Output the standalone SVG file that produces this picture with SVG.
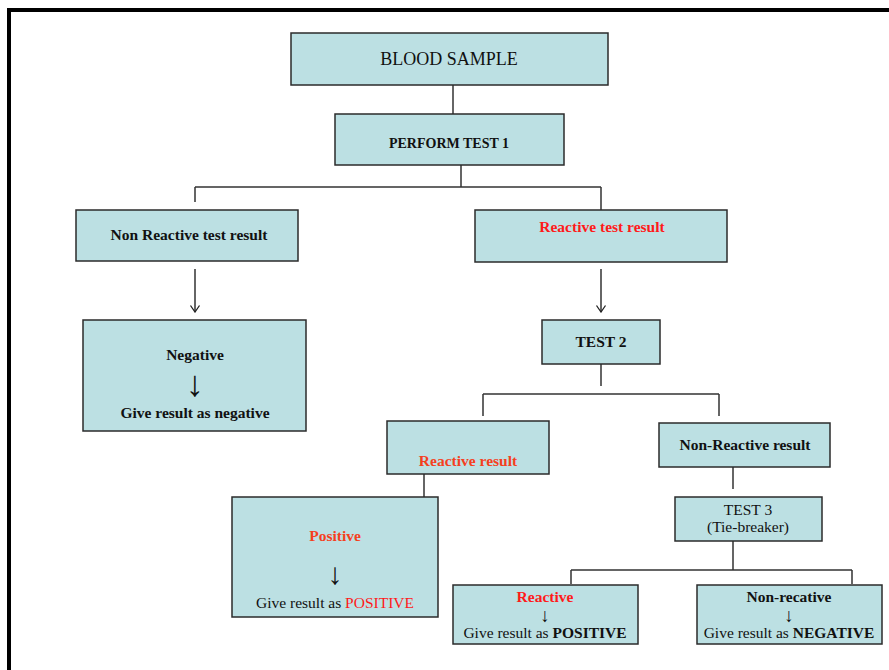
<svg xmlns="http://www.w3.org/2000/svg" width="889" height="670" viewBox="0 0 889 670">
<defs>
<style>
.box{fill:#BCE0E3;stroke:#2b2b2b;stroke-width:1.5}
.ln{fill:none;stroke:#333;stroke-width:1.5}
.t{font-family:"Liberation Serif","Times New Roman",serif;font-size:15.5px;fill:#111;text-anchor:middle}
.b{font-weight:bold}
.red{fill:#FF1A1A}
.org{fill:#F5401E}
.ar{font-family:"Liberation Serif","DejaVu Serif",serif}
</style>
<marker id="ah" markerWidth="8" markerHeight="12" refX="7" refY="6" orient="auto" markerUnits="userSpaceOnUse" viewBox="0 0 8 12">
<path d="M0.5,1.5 L7,6 L0.5,10.5" fill="none" stroke="#222" stroke-width="1.3"/>
</marker>
</defs>
<rect width="889" height="670" fill="#fff"/>
<path d="M9,670 V10 H889" fill="none" stroke="#000" stroke-width="4"/>

<g id="connectors">
<path class="ln" d="M453,85 V114"/>
<path class="ln" d="M461,165 V187 M195,187 H601 M195,187 V202 M601,187 V210"/>
<path class="ln" d="M195,269 V312" marker-end="url(#ah)"/>
<path class="ln" d="M601,269 V312" marker-end="url(#ah)"/>
<path class="ln" d="M601,364 V386"/>
<path class="ln" d="M483,394 H719 M483,394 V416 M719,394 V416"/>
<path class="ln" d="M424,474 V497"/>
<path class="ln" d="M733,467 V489"/>
<path class="ln" d="M733,541 V570 M571,570 H852 M571,570 V584 M852,570 V584"/>
</g>

<g id="blood-sample">
<rect class="box" x="291" y="33" width="317" height="52"/>
<text class="t" x="449" y="64.5" style="font-size:18px">BLOOD SAMPLE</text>
</g>
<g id="perform-test-1">
<rect class="box" x="335" y="114" width="229" height="51"/>
<text class="t b" x="449" y="148" style="font-size:14px">PERFORM TEST 1</text>
</g>
<g id="non-reactive-test-result">
<rect class="box" x="76" y="210" width="222" height="51"/>
<text class="t b" x="189" y="240">Non Reactive test result</text>
</g>
<g id="reactive-test-result">
<rect class="box" x="475" y="210" width="252" height="52"/>
<text class="t b red" x="602" y="232">Reactive test result</text>
</g>
<g id="negative">
<rect class="box" x="83" y="320" width="223" height="111"/>
<text class="t b" x="195" y="360">Negative</text>
<text class="t b ar" x="195" y="396" style="font-size:36px">↓</text>
<text class="t b" x="195" y="418">Give result as negative</text>
</g>
<g id="test-2">
<rect class="box" x="542" y="320" width="118" height="44"/>
<text class="t b" x="601" y="347">TEST 2</text>
</g>
<g id="reactive-result">
<rect class="box" x="387" y="421" width="162" height="53"/>
<text class="t b org" x="468" y="466">Reactive result</text>
</g>
<g id="non-reactive-result">
<rect class="box" x="659" y="423" width="171" height="44"/>
<text class="t b" x="745" y="450">Non-Reactive result</text>
</g>
<g id="positive">
<rect class="box" x="232" y="497" width="206" height="120"/>
<text class="t b org" x="335" y="541">Positive</text>
<text class="t ar" x="335" y="584" style="font-size:30px">↓</text>
<text class="t" x="335" y="608">Give result as <tspan class="red">POSITIVE</tspan></text>
</g>
<g id="test-3">
<rect class="box" x="675" y="497" width="147" height="44"/>
<text class="t" x="748" y="515">TEST 3</text>
<text class="t" x="748" y="532">(Tie-breaker)</text>
</g>
<g id="reactive">
<rect class="box" x="453" y="585" width="185" height="59"/>
<text class="t b red" x="545" y="602">Reactive</text>
<text class="t ar" x="545" y="622" style="font-size:19px">↓</text>
<text class="t" x="545" y="638">Give result as <tspan class="b">POSITIVE</tspan></text>
</g>
<g id="non-recative">
<rect class="box" x="697" y="585" width="185" height="59"/>
<text class="t b" x="789" y="602">Non-recative</text>
<text class="t ar" x="789" y="622" style="font-size:19px">↓</text>
<text class="t" x="789" y="638">Give result as <tspan class="b">NEGATIVE</tspan></text>
</g>
</svg>
